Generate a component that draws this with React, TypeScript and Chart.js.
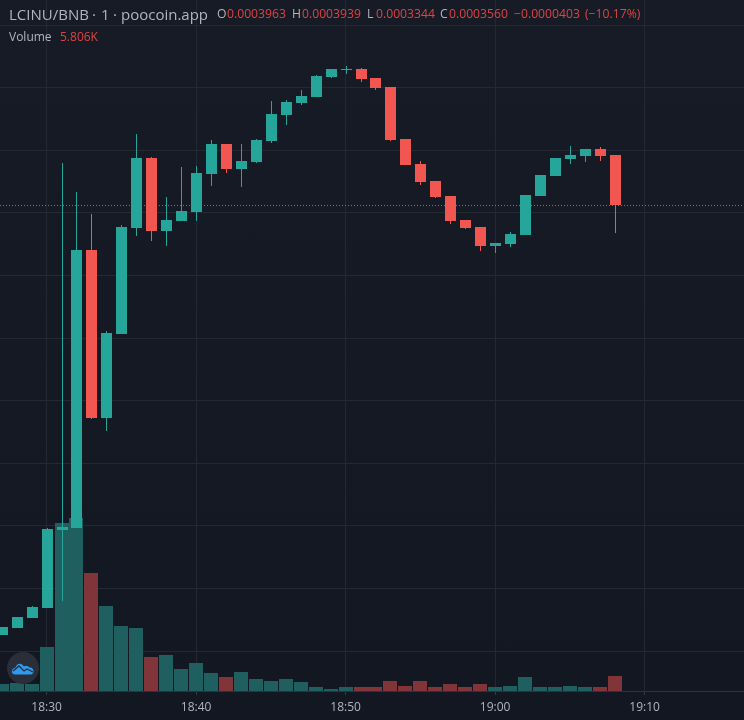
import React, { useEffect, useRef } from 'react';
import Chart from 'chart.js/auto';

const times = ['18:27','18:28','18:29','18:30','18:31','18:32','18:33','18:34','18:35','18:36','18:37','18:38','18:39','18:40','18:41','18:42','18:43','18:44','18:45','18:46','18:47','18:48','18:49','18:50','18:51','18:52','18:53','18:54','18:55','18:56','18:57','18:58','18:59','19:00','19:01','19:02','19:03','19:04','19:05','19:06','19:07','19:08'];

// prices in 1e-7 BNB
const opens = [129,185,265,345,968,984,3204,1863,2534,3380,3939,3356,3436,3508,3811,4051,3851,3907,4075,4283,4379,4426,4586,4642,4650,4578,4506,4091,3891,3756,3636,3444,3388,3236,3252,3324,3636,3796,3931,3955,4011,3963];
const highs = [193,273,361,984,3899,3668,3492,2558,3404,4131,3947,3628,3867,3875,4083,4051,4051,4091,4395,4403,4482,4602,4650,4674,4658,4578,4506,4091,3915,3756,3636,3444,3388,3260,3348,3644,3804,3939,4035,4011,4027,3963];
const lows = [129,185,265,345,401,984,1855,1759,2534,3316,3276,3236,3436,3436,3716,3819,3708,3899,4059,4203,4363,4426,4578,4610,4546,4482,4075,3883,3724,3620,3412,3372,3196,3181,3228,3324,3636,3796,3891,3907,3915,3344];
const closes = [193,273,353,976,992,3204,1863,2542,3388,3939,3356,3444,3516,3819,4051,3851,3915,4083,4291,4387,4434,4594,4650,4650,4570,4498,4083,3883,3748,3628,3436,3380,3236,3260,3332,3644,3804,3939,3963,4011,3955,3560];
const volumes = [2709,3096,2709,17028,65016,66951,45666,32895,25155,24381,13158,13932,8514,10836,6966,5418,7353,4644,3870,4644,3483,1548,774,1548,1548,1548,3870,1935,3870,1548,2709,1548,2709,1548,1935,5418,1548,1548,1935,1548,1548,5806];

const xTickLabels = ['18:30', '18:40', '18:50', '19:00', '19:10'];
const priceTicks = [0, 500, 1000, 1500, 2000, 2500, 3000, 3500, 4000, 4500, 5000];
const lastPrice = 3560;

const titleParts = ['LCINU/BNB', '·', '1', '·', 'poocoin.app'];
const ohlcLabels = ['O', 'H', 'L', 'C'];
const ohlcValues = ['0.0003963', '0.0003939', '0.0003344', '0.0003560'];
const changeText = '−0.0000403';
const changePct = '(−10.17%)';
const volumeText = '5.806K';

const UP = '#26a69a';
const DOWN = '#f25650';
const UP_VOL = '#1f5f5f';
const DOWN_VOL = '#823538';
const GRID = '#242833';
const TEXT = '#b2b5be';
const RED_TEXT = '#dd4443';

const FONT = '"Open Sans", sans-serif';

const toMinute = (t: string) => {
  const [h, m] = t.split(':').map(Number);
  return h * 60 + m;
};
const minutes = times.map(toMinute);
const price = (v: number) => v * 1e-7;
const isUp = (i: number) => closes[i] >= opens[i];

const X_MIN = 1106.8796;
const X_MAX = 1156.6455;

// snap the bars to whole pixels so wicks stay crisp like the original
const snapBars = {
  id: 'snapBars',
  beforeDatasetDraw(chart: any, args: any) {
    if (args.meta.type !== 'bar') return;
    const isVolume = args.meta.yAxisID === 'volume';
    args.meta.data.forEach((el: any) => {
      const col = Math.floor(el.x + 0.45);
      el.x = isVolume ? col : col + 0.5;
      el.y = Math.round(el.y);
      el.base = Math.round(el.base);
    });
  },
};

const App: React.FC = () => {
  const chartRef = useRef<HTMLCanvasElement | null>(null);

  useEffect(() => {
    if (!chartRef.current) return;
    const ctx = chartRef.current.getContext('2d');
    if (!ctx) return;

    const myChart = new Chart(ctx, {
      type: 'bar',
      plugins: [snapBars],
      data: {
        datasets: [
          {
            label: 'Bodies',
            order: 1,
            grouped: false,
            barThickness: 11,
            inflateAmount: 0,
            data: minutes.map((x, i) => ({ x, y: [price(opens[i]), price(closes[i])] })),
            backgroundColor: minutes.map((_, i) => (isUp(i) ? UP : DOWN)),
          },
          {
            label: 'Wicks',
            order: 2,
            grouped: false,
            barThickness: 1,
            inflateAmount: 0,
            data: minutes.map((x, i) => ({ x, y: [price(lows[i]), price(highs[i])] })),
            backgroundColor: minutes.map((_, i) => (isUp(i) ? UP : DOWN)),
          },
          {
            label: 'Last',
            type: 'line',
            order: 3,
            data: [
              { x: X_MIN, y: price(lastPrice) },
              { x: X_MAX, y: price(lastPrice) },
            ],
            borderColor: '#e0504e',
            borderWidth: 1,
            borderDash: [1, 2],
            pointRadius: 0,
          },
          {
            label: 'Volume',
            order: 4,
            grouped: false,
            barThickness: 14,
            inflateAmount: 0,
            yAxisID: 'volume',
            data: minutes.map((x, i) => ({ x, y: volumes[i] })),
            backgroundColor: minutes.map((_, i) => (isUp(i) ? UP_VOL : DOWN_VOL)),
          },
        ] as any,
      },
      options: {
        responsive: false,
        animation: false,
        layout: { padding: 0 },
        plugins: {
          legend: { display: false },
          tooltip: { enabled: false },
        },
        scales: {
          x: {
            type: 'linear',
            min: X_MIN,
            max: X_MAX,
            offset: false,
            afterBuildTicks: (scale: any) => {
              scale.ticks = xTickLabels.map((t) => ({ value: toMinute(t) }));
            },
            afterFit: (scale: any) => {
              scale.height = 29;
            },
            ticks: {
              color: TEXT,
              padding: 5,
              maxRotation: 0,
              autoSkip: false,
              font: { size: 12, family: FONT },
              callback: (v: any) => xTickLabels.find((t) => toMinute(t) === v) ?? '',
            },
            grid: { offset: false, color: GRID, tickColor: '#363a45', tickLength: 4 },
            border: { color: '#2e323d' },
          },
          y: {
            min: -0.0000318,
            max: 0.0005201,
            afterBuildTicks: (scale: any) => {
              scale.ticks = priceTicks.map((v) => ({ value: price(v) }));
            },
            afterFit: (scale: any) => {
              scale.width = 0;
            },
            ticks: { display: false },
            grid: { color: GRID, drawTicks: false },
            border: { display: false },
          },
          volume: {
            display: false,
            min: 0,
            max: 267417,
          },
        },
      } as any,
    });

    return () => {
      myChart.destroy();
    };
  }, []);

  const span = (left: number, top: number, color: string, text: string, size = 12.2) => (
    <span
      key={left + text}
      style={{ position: 'absolute', left, top, color, fontSize: size, lineHeight: '16px', whiteSpace: 'nowrap' }}
    >
      {text}
    </span>
  );

  return (
    <div
      style={{
        position: 'relative',
        width: 744,
        height: 720,
        overflow: 'hidden',
        fontFamily: FONT,
        background: 'linear-gradient(#171b26, #131722)',
      }}
    >
      <style>{'body{margin:0}'}</style>
      <canvas ref={chartRef} width={744} height={720} style={{ display: 'block' }} />
      {[9, 92, 101, 113, 121].map((x, i) => span(x, 6, TEXT, titleParts[i], 15))}
      {[217, 292, 367, 440].map((x, i) => span(x, 6, TEXT, ohlcLabels[i]))}
      {[227, 302, 376, 449].map((x, i) => span(x, 6, RED_TEXT, ohlcValues[i]))}
      {span(514, 6, RED_TEXT, changeText)}
      {span(585, 6, RED_TEXT, changePct)}
      {span(9, 29, TEXT, 'Volume', 12)}
      {span(60, 29, RED_TEXT, volumeText, 12)}
      <svg width={32} height={32} viewBox="0 0 32 32" style={{ position: 'absolute', left: 7, top: 652 }}>
        <circle cx={16} cy={16} r={16} fill="#2a2e39" />
        <path
          d="M5.500 21.500c-1.500-3 .5-5.500 3-6 1-2.500 3-4.500 5.500-3.500 1.500.5 2 1.500 3 2.500 2-1.500 4-.5 5.500 1 2.500 0 4.500 2 4 4.500-.5 2-2 2.500-3.500 2.500H9c-1.500 0-3-.5-3.500-1z"
          fill="#2f9bf0"
        />
        <path d="M6 19l6-5 5 5 3-2 6 3" fill="none" stroke="#2a2e39" strokeWidth={1.3} />
      </svg>
    </div>
  );
};

export default App;
